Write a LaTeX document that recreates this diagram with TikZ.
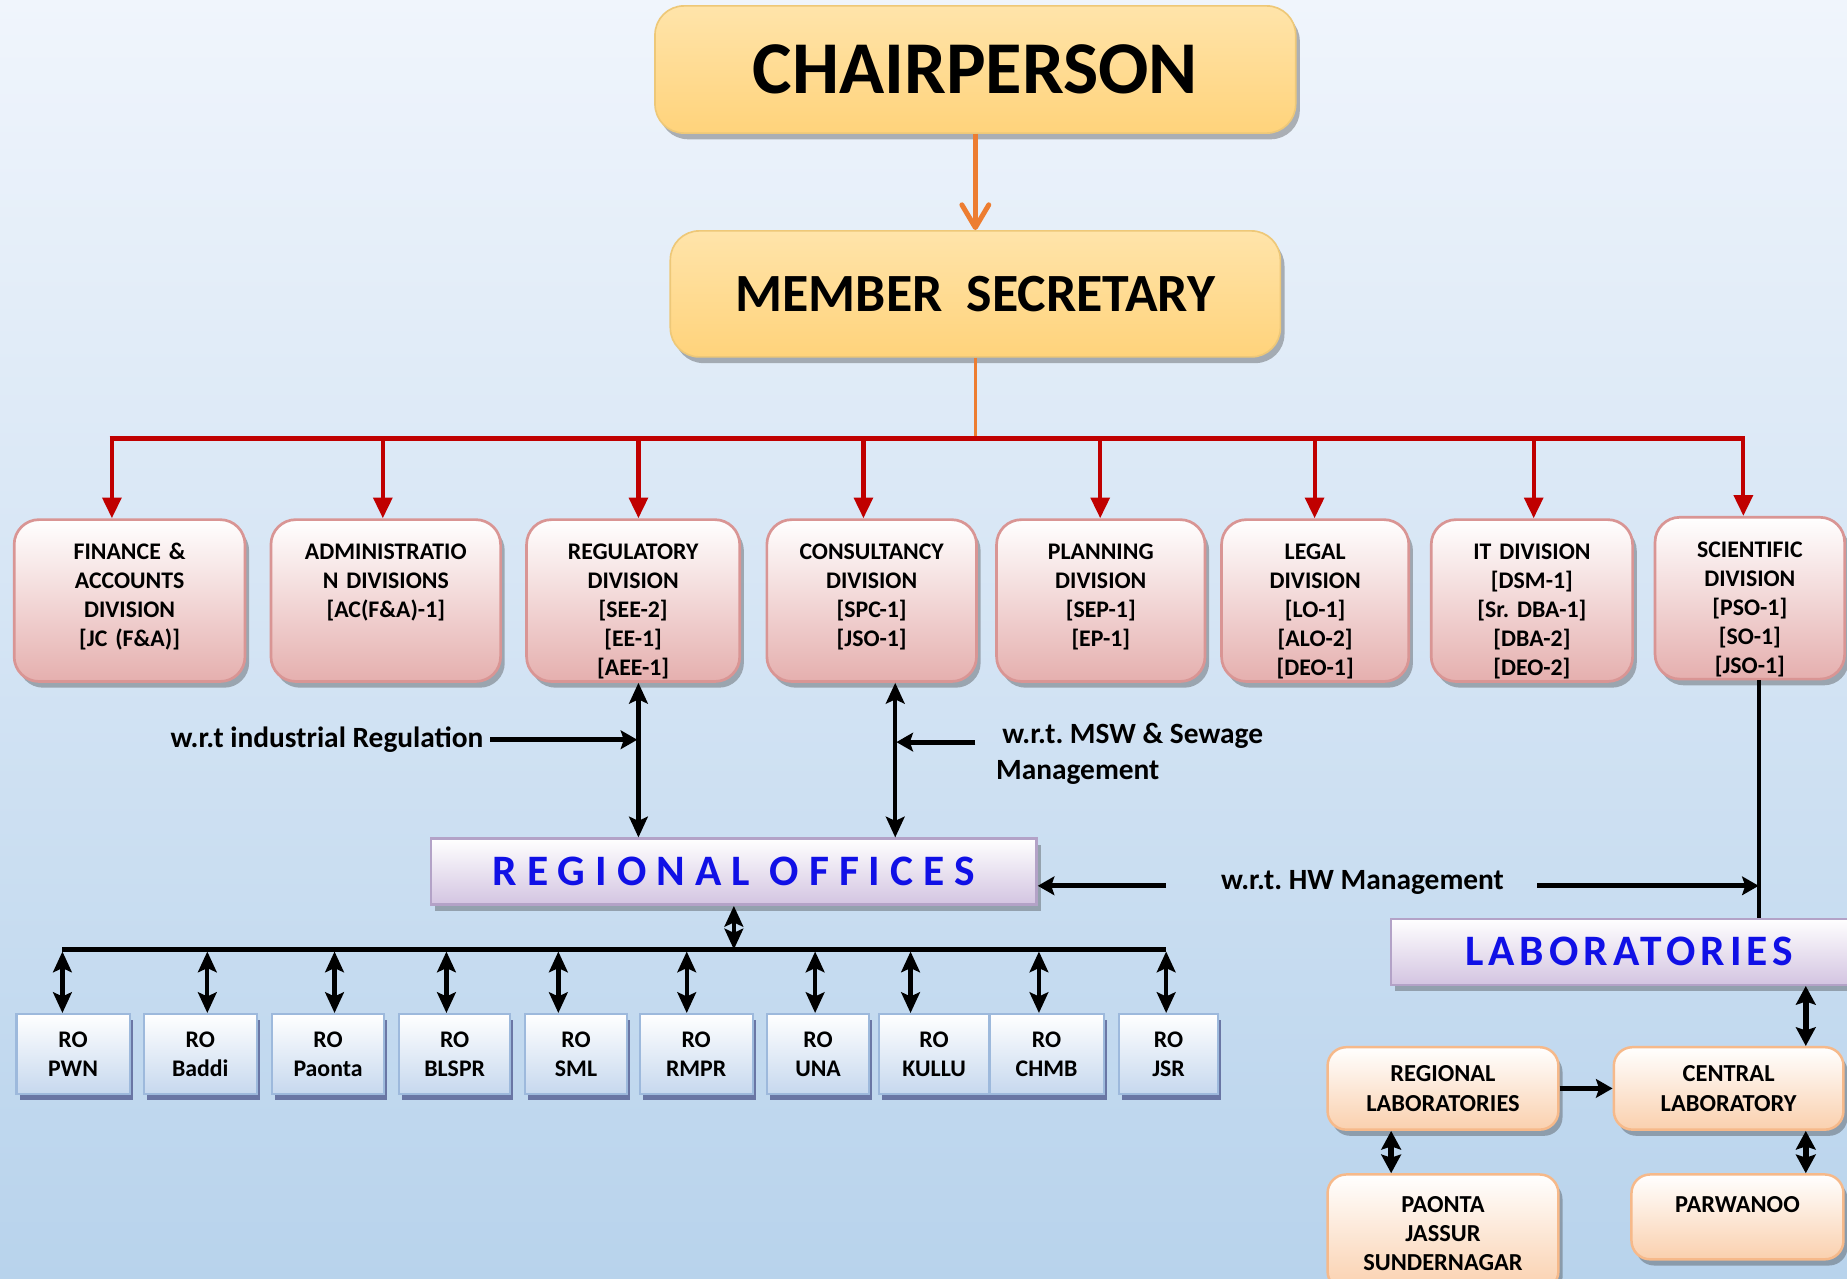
\documentclass[tikz,border=0pt]{standalone}
\usepackage{fontspec}
\setmainfont{Carlito}
\usetikzlibrary{positioning,arrows.meta,shadows}
\frenchspacing

\definecolor{bgtop}{HTML}{F0F5FC}
\definecolor{bgbot}{HTML}{B8D3EC}
\definecolor{chairtop}{HTML}{FFE4AA}
\definecolor{chairbot}{HTML}{FFD37B}
\definecolor{chairedge}{HTML}{EEC878}
\definecolor{divbot}{HTML}{E5AFAE}
\definecolor{divedge}{HTML}{D99594}
\definecolor{robot}{HTML}{C6D8EE}
\definecolor{roedge}{HTML}{9DB9DC}
\definecolor{offbot}{HTML}{D3C4E1}
\definecolor{offedge}{HTML}{B3A2C7}
\definecolor{labbot}{HTML}{FAD0AE}
\definecolor{labedge}{HTML}{F6B98A}
\definecolor{linkred}{HTML}{C00000}
\definecolor{linkorange}{HTML}{ED7D31}
\definecolor{titleblue}{HTML}{1010E6}

\tikzset{
  boxshadow/.style={drop shadow={shadow xshift=2pt,shadow yshift=-3pt,opacity=0.35,fill=black!80}},
  headbox/.style={draw=chairedge, line width=0.8pt, rounded corners=14pt,
    top color=chairtop, bottom color=chairbot, inner sep=0pt, boxshadow},
  divbox/.style={draw=divedge, line width=1.3pt, rounded corners=12pt,
    top color=white, bottom color=divbot, anchor=north, inner sep=0pt,
    align=center, font=\bfseries\fontsize{11.5}{14}\selectfont,
    text height=19.3pt, text depth=58.9pt, boxshadow},
  robox/.style={draw=roedge, line width=1pt, top color=white, bottom color=robot,
    anchor=north, inner sep=0pt, minimum height=1.36cm, align=center,
    font=\bfseries\fontsize{11.5}{14.2}\selectfont,
    drop shadow={shadow xshift=1.5pt,shadow yshift=-3pt,opacity=0.45,fill=black!70!blue}},
  titlebox/.style={draw=offedge, line width=1.2pt, top color=white, bottom color=offbot,
    inner sep=0pt, minimum height=1.12cm, text=titleblue, boxshadow},
  labbox/.style={draw=labedge, line width=1.2pt, rounded corners=9pt,
    top color=white, bottom color=labbot, inner sep=0pt, align=center,
    font=\bfseries\fontsize{11.8}{14.2}\selectfont, boxshadow},
  note/.style={font=\bfseries\fontsize{14.2}{17}\selectfont, inner xsep=3pt, inner ysep=0pt},
  redarr/.style={draw=linkred, line width=2pt, -{Triangle[width=9pt,length=10pt]}},
  dblarr/.style={line width=2.1pt, {Stealth[width=9pt,length=10pt,inset=2pt]}-{Stealth[width=9pt,length=10pt,inset=2pt]}},
  fatdbl/.style={line width=2.8pt, {Stealth[width=9.5pt,length=9pt,inset=1.5pt]}-{Stealth[width=9.5pt,length=9pt,inset=1.5pt]}},
  notearr/.style={line width=2.5pt, -{Stealth[width=9pt,length=8pt,inset=1.5pt]}},
}

\begin{document}
\begin{tikzpicture}[x=0.02cm,y=-0.02cm]
  \useasboundingbox (0,0) rectangle (1568,1085);
  \clip (0,0) rectangle (1568,1085);
  \shade[top color=bgtop, bottom color=bgbot] (0,0) rectangle (1568,1085);

  % top of the chart
  \node[headbox, minimum width=10.88cm, minimum height=2.16cm,
    font=\bfseries\fontsize{36}{40}\selectfont] (chair) at (828,59) {CHAIRPERSON};
  \node[headbox, minimum width=10.36cm, minimum height=2.14cm,
    font=\bfseries\fontsize{26}{30}\selectfont] (memsec) at (828,249.5) {MEMBER~~SECRETARY};
  \draw[draw=linkorange, line width=2.4pt, -{Straight Barb[length=11pt,width=13pt,round]}]
    (chair) -- (memsec);

  % divisions
  \node[divbox, text width=3.92cm] (fin) at (110,440) {FINANCE \&\\ACCOUNTS\\DIVISION\\{[JC (F\&A)]}};
  \node[divbox, text width=3.9cm] (admin) at (327.5,440) {ADMINISTRATIO\\N DIVISIONS\\{[AC(F\&A)-1]}};
  \node[divbox, text width=3.62cm] (regdiv) at (537.5,440) {REGULATORY\\DIVISION\\{[SEE-2]}\\{[EE-1]}\\{[AEE-1]}};
  \node[divbox, text width=3.56cm] (consdiv) at (740,440) {CONSULTANCY\\DIVISION\\{[SPC-1]}\\{[JSO-1]}};
  \node[divbox, text width=3.54cm] (plandiv) at (934.5,440) {PLANNING\\DIVISION\\{[SEP-1]}\\{[EP-1]}};
  \node[divbox, text width=3.18cm] (legaldiv) at (1116.5,440) {LEGAL\\DIVISION\\{[LO-1]}\\{[ALO-2]}\\{[DEO-1]}};
  \node[divbox, text width=3.42cm] (itdiv) at (1300.5,440) {IT DIVISION\\{[DSM-1]}\\{[Sr. DBA-1]}\\{[DBA-2]}\\{[DEO-2]}};
  \node[divbox, text width=3.22cm] (scidiv) at (1485.5,438) {SCIENTIFIC\\DIVISION\\{[PSO-1]}\\{[SO-1]}\\{[JSO-1]}};

  \coordinate (busW) at (93,372);
  \coordinate (busE) at (1481,372);
  \draw[linkorange, line width=1.3pt] (memsec.south) -- (memsec.south |- busW);
  \draw[linkred, line width=2.4pt] (busW) -- (busE);
  \foreach \n/\x in {fin/95,admin/325,regdiv/542,consdiv/733,plandiv/934,legaldiv/1116,itdiv/1302,scidiv/1480}
    \draw[redarr] (\x,0 |- busW) -- (\x,0 |- \n.north);

  % regional offices
  \node[titlebox, minimum width=10.28cm,
    font=\bfseries\fontsize{21}{24}\selectfont\addfontfeature{LetterSpace=23}] (regoff) at (623,740) {REGIONAL OFFICES};
  \draw[dblarr] (542,0 |- regdiv.south) -- (542,0 |- regoff.north);
  \draw[dblarr] (760,0 |- consdiv.south) -- (760,0 |- regoff.north);

  \node[note, anchor=east] (lblind) at (416,628) {w.r.t industrial Regulation};
  \draw[notearr] (lblind.east) -- (lblind.east -| 541,0);
  \node[note, anchor=north west, align=left] (lblmsw) at (840,614) {\hspace*{3pt}w.r.t. MSW \& Sewage\\Management};
  \coordinate (mswtail) at (828,630);
  \draw[notearr] (mswtail) -- (mswtail -| 761,0);

  \coordinate (roW) at (53,806);
  \coordinate (roE) at (990,806);
  \draw[dblarr] (regoff.south) -- (regoff.south |- roW);
  \draw[line width=2.8pt] (roW) -- (roE);
  \foreach \n/\lbl/\cx/\w/\ax in {pwn/PWN/62/1.92/53, baddi/Baddi/170/1.92/176,
      paonta/Paonta/278.5/1.9/284, blspr/BLSPR/386/1.88/379, sml/SML/489/1.72/474,
      rmpr/RMPR/591/1.92/583, una/UNA/694.5/1.74/692, kullu/KULLU/793/1.88/773,
      chmb/CHMB/888.5/1.94/882, jsr/JSR/992/1.68/990} {
    \node[robox, text width=\w cm] (ro\n) at (\cx,860) {RO\\\lbl};
    \draw[dblarr, shorten <=1pt] (\ax,0 |- roW) -- (\ax,0 |- ro\n.north);
  }

  % laboratories
  \node[titlebox, minimum width=8.08cm,
    font=\bfseries\fontsize{21}{24}\selectfont\addfontfeature{LetterSpace=11.5}] (labs) at (1383,808) {LABORATORIES};
  \draw[line width=2pt] (1493,0 |- scidiv.south) -- (1493,0 |- labs.north) coordinate (labtop);

  \node[note, anchor=west] (lblhw) at (1031,749) {w.r.t. HW Management};
  \coordinate (hwltail) at (990,752);
  \coordinate (hwrtail) at (1305,752);
  \draw[notearr] (hwltail) -- (hwltail -| regoff.east);
  \draw[notearr] (hwrtail) -- (hwrtail -| labtop);

  \node[labbox, text width=3.92cm, minimum height=1.4cm] (reglab) at (1225,924) {REGIONAL\\LABORATORIES};
  \node[labbox, text width=3.9cm, minimum height=1.4cm] (cenlab) at (1467.5,924) {CENTRAL\\LABORATORY};
  \node[labbox, anchor=north, text width=3.92cm, text height=18.2pt, text depth=37.6pt] (paontalab) at (1225,996) {PAONTA\\JASSUR\\SUNDERNAGAR};
  \node[labbox, anchor=north, text width=3.6cm, text height=18.2pt, text depth=22.8pt] (parwlab) at (1475,996) {PARWANOO};

  \draw[fatdbl] (1533,0 |- labs.south) -- (1533,0 |- cenlab.north);
  \draw[notearr, line width=2.8pt] (reglab.east) -- (cenlab.west);
  \draw[fatdbl] (1181,0 |- reglab.south) -- (1181,0 |- paontalab.north);
  \draw[fatdbl] (1533,0 |- cenlab.south) -- (1533,0 |- parwlab.north);
\end{tikzpicture}
\end{document}
